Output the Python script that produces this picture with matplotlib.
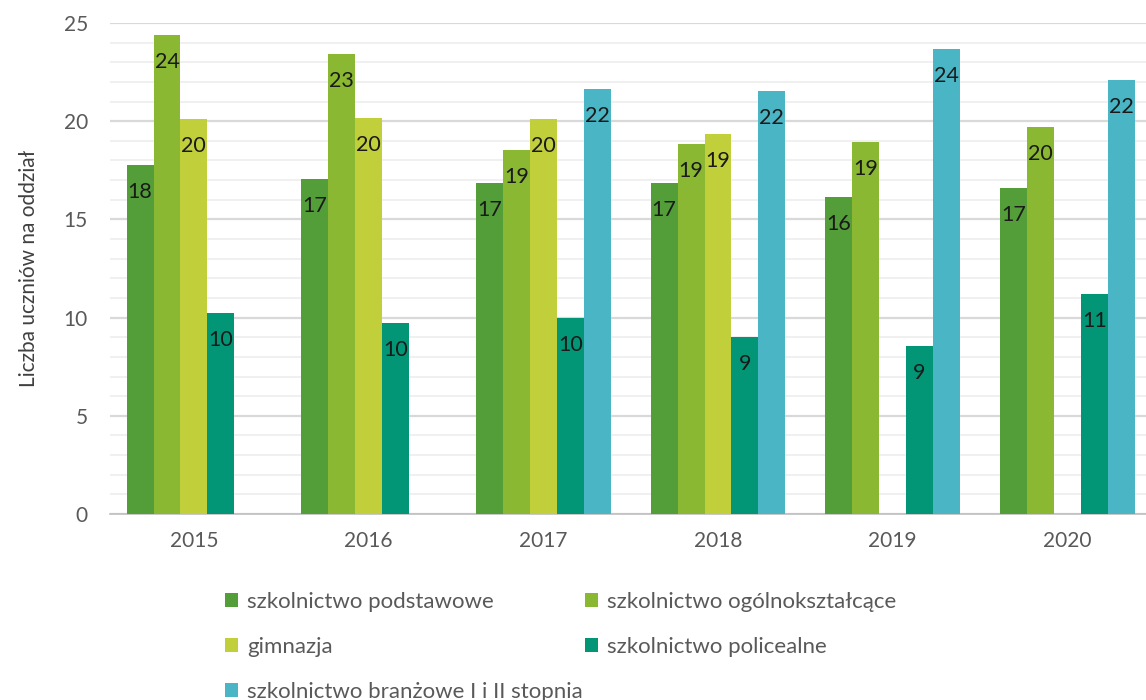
import numpy as np
import matplotlib.pyplot as plt
from matplotlib.ticker import MultipleLocator

plt.rcParams['font.family'] = ['Lato', 'DejaVu Sans']

years = ["2015", "2016", "2017", "2018", "2019", "2020"]
labels = ["szkolnictwo podstawowe", "szkolnictwo ogólnokształcące", "gimnazja",
          "szkolnictwo policealne", "szkolnictwo branżowe I i II stopnia"]
podstawowe = [17.75, 17.07, 16.87, 16.87, 16.16, 16.61]
ogolnoksztalcace = [24.39, 23.40, 18.55, 18.84, 18.96, 19.69]
gimnazja = [20.10, 20.15, 20.10, 19.37, np.nan, np.nan]
policealne = [10.22, 9.71, 9.98, 9.00, 8.55, 11.20]
branzowe = [np.nan, np.nan, 21.64, 21.52, 23.66, 22.10]
series = [podstawowe, ogolnoksztalcace, gimnazja, policealne, branzowe]
colors = ["#549E39", "#8AB833", "#C0CF3A", "#029676", "#4AB5C4"]

fig = plt.figure(figsize=(11.46, 7.0), dpi=100)
ax = fig.add_axes([110/1146, 1 - 514/700, 1 - 110/1146, (514 - 23)/700])

x = np.arange(len(years))
w = 0.154
handles = []
for i, (vals, c, lab) in enumerate(zip(series, colors, labels)):
    pos = x + (i - 2) * w
    b = ax.bar(pos, vals, width=w, color=c, label=lab, zorder=3)
    handles.append(b)
    for px, v in zip(pos, vals):
        if np.isnan(v):
            continue
        ax.annotate("%d" % round(v), (px, v), xytext=(0, -27), textcoords="offset pixels",
                    ha="center", va="center", fontsize=15.5, color="#1a1a1a", zorder=4)

ax.set_ylim(0, 25)
ax.set_xlim(-0.48, 5.45)
ax.yaxis.set_major_locator(MultipleLocator(5))
ax.yaxis.set_minor_locator(MultipleLocator(1))
ax.grid(axis="y", which="major", color="#D9D9D9", lw=1.6, zorder=0)
ax.grid(axis="y", which="minor", color="#EDEDED", lw=1.2, zorder=0)
ax.set_axisbelow(True)
for s in ["top", "right", "left"]:
    ax.spines[s].set_visible(False)
ax.spines["bottom"].set_color("#BFBFBF")
ax.spines["bottom"].set_linewidth(1.2)
ax.set_xticks(x)
ax.set_xticklabels(years)
ax.tick_params(axis="both", which="both", length=0, labelsize=15, colors="#595959", pad=12)
ax.tick_params(axis="y", pad=16)
ax.set_ylabel("Liczba uczniów na oddział", fontsize=15, color="#404040", labelpad=18)

# legend in two separate columns, like the original
leg_kw = dict(loc="upper left", frameon=False, fontsize=16, labelcolor="#595959",
              handlelength=0.6, handleheight=0.6, handletextpad=0.4, labelspacing=1.12)
col1 = [0, 2, 4]
col2 = [1, 3]
fig.legend([handles[i] for i in col1], [labels[i] for i in col1],
           bbox_to_anchor=(205/1146, 1 - 572/700), **leg_kw)
fig.legend([handles[i] for i in col2], [labels[i] for i in col2],
           bbox_to_anchor=(565/1146, 1 - 572/700), **leg_kw)

fig.savefig("out.png", dpi=100)
